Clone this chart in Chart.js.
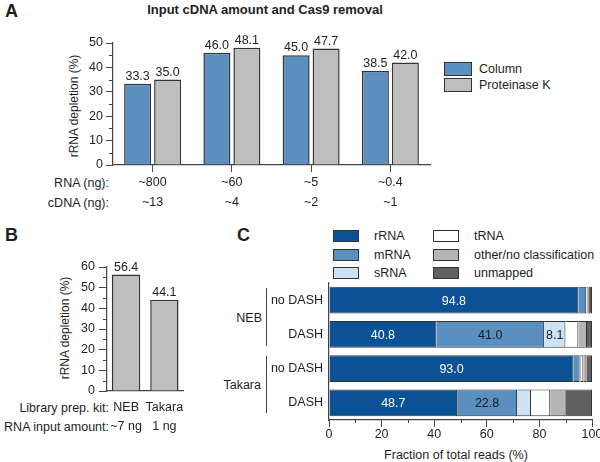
<!DOCTYPE html>
<html>
<head>
<meta charset="utf-8">
<script src="https://cdn.jsdelivr.net/npm/chart.js@4.4.0/dist/chart.umd.min.js"></script>
<style>
body { margin: 0; background: #fff; }
#wrap { position: relative; width: 600px; height: 462px; overflow: hidden;
        font-family: "Liberation Sans", Arial, sans-serif; font-size: 12.5px; color: #1e1e1e; }
.t { position: absolute; white-space: nowrap; line-height: 1; }
.mid { transform: translate(0, -50%); }
.ctr { transform: translate(-50%, -50%); }
.rgt { transform: translate(-100%, -50%); }
.rot { transform: translate(-50%, -50%) rotate(-90deg); font-size: 12px; }
.letter { font-weight: bold; font-size: 18px; }
.box { position: absolute; box-sizing: border-box; border: 1.3px solid #333; }
.vline { position: absolute; width: 1px; background: #444; }
canvas { position: absolute; }
</style>
</head>
<body>
<div id="wrap">
  <div class="t letter" style="left:5px;top:2px;">A</div>
  <div class="t ctr" style="left:265px;top:9px;font-weight:bold;font-size:13px;">Input cDNA amount and Cas9 removal</div>
  <div class="t rot" style="left:74px;top:106px;">rRNA depletion (%)</div>
  <div class="t rgt" style="left:109px;top:183px;">RNA (ng):</div>
  <div class="t rgt" style="left:109px;top:203px;">cDNA (ng):</div>
  <div id="legendA"></div>

  <div class="t letter" style="left:5px;top:226px;">B</div>
  <div class="t rot" style="left:65px;top:328px;">rRNA depletion (%)</div>
  <div class="t rgt" style="left:109px;top:408px;">Library prep. kit:</div>
  <div class="t rgt" style="left:109px;top:427px;">RNA input amount:</div>

  <div class="t letter" style="left:237px;top:226px;">C</div>
  <div id="legendC"></div>
  <div class="t rgt" style="left:262px;top:318px;">NEB</div>
  <div class="t rgt" style="left:261px;top:385px;">Takara</div>
  <div class="vline" style="left:266px;top:288px;height:58px;"></div>
  <div class="vline" style="left:266px;top:356px;height:57px;"></div>
  <div class="t ctr" style="left:456px;top:455px;">Fraction of total reads (%)</div>

  <canvas id="chartA" width="440" height="225" style="left:0;top:0;"></canvas>
  <canvas id="chartB" width="200" height="210" style="left:0;top:240px;"></canvas>
  <canvas id="chartC" width="380" height="192" style="left:220px;top:270px;"></canvas>
</div>
<script>
// Panel A: input cDNA amount and Cas9 removal
var rnaInput = ['~800', '~60', '~5', '~0.4'];
var cdnaInput = ['~13', '~4', '~2', '~1'];
var columnValues = [33.3, 46.0, 45.0, 38.5];
var proteinaseValues = [35.0, 48.1, 47.7, 42.0];

// Panel B: library prep kits
var kits = ['NEB', 'Takara'];
var kitInput = ['~7 ng', '1 ng'];
var kitDepletion = [56.4, 44.1];

// Panel C: fraction of total reads
var rowLabels = ['no DASH', 'DASH', 'no DASH', 'DASH'];
var readClasses = ['rRNA', 'mRNA', 'sRNA', 'tRNA', 'other/no classification', 'unmapped'];
var rRNA = [94.8, 40.8, 93.0, 48.7];
var mRNA = [3.0, 41.0, 2.3, 22.8];
var sRNA = [0.1, 8.1, 0.4, 5.3];
var tRNA = [0.4, 4.9, 1.0, 7.3];
var otherRNA = [0.3, 3.3, 1.2, 5.9];
var unmapped = [1.4, 1.9, 2.1, 10.0];

var classColors = ['#0a5195', '#5b8fbf', '#cfe2f5', '#ffffff', '#b5b5b5', '#606060'];
var classTextColors = ['#ffffff', '#1a1a1a', '#1a1a1a'];   // only these classes get numbers
var blue = '#5b8fbf';
var grey = '#bebebe';
var edge = '#333333';
var ink = '#1e1e1e';
var FONT = '"Liberation Sans", Arial, sans-serif';

// small unlabeled ticks between the labelled ones
var minorTicks = {
    id: 'minorTicks',
    afterDraw: function(chart, args, opts) {
        var s = chart.scales[opts.axis];
        if (!s) return;
        var ctx = chart.ctx;
        ctx.save();
        ctx.strokeStyle = '#444';
        ctx.lineWidth = 1;
        ctx.beginPath();
        for (var v = s.min + opts.step; v < s.max; v += opts.step * 2) {
            var p = Math.round(s.getPixelForValue(v)) + 0.5;
            if (s.isHorizontal()) {
                ctx.moveTo(p, s.top);
                ctx.lineTo(p, s.top + opts.length);
            } else {
                ctx.moveTo(s.right - opts.length, p);
                ctx.lineTo(s.right, p);
            }
        }
        ctx.stroke();
        ctx.restore();
    }
};

// numbers over the bars (panels A and B)
var topLabels = {
    id: 'topLabels',
    afterDatasetsDraw: function(chart) {
        var ctx = chart.ctx;
        ctx.save();
        ctx.font = '12.5px ' + FONT;
        ctx.fillStyle = ink;
        ctx.textAlign = 'center';
        ctx.textBaseline = 'bottom';
        chart.data.datasets.forEach(function(ds, i) {
            chart.getDatasetMeta(i).data.forEach(function(bar, j) {
                ctx.fillText(ds.data[j].toFixed(1), bar.x, bar.y - 1);
            });
        });
        ctx.restore();
    }
};

// numbers inside the wide segments (panel C)
var segmentLabels = {
    id: 'segmentLabels',
    afterDatasetsDraw: function(chart) {
        var ctx = chart.ctx;
        ctx.save();
        ctx.font = '12.5px ' + FONT;
        ctx.textAlign = 'center';
        ctx.textBaseline = 'middle';
        chart.data.datasets.forEach(function(ds, i) {
            if (i >= classTextColors.length) return;
            chart.getDatasetMeta(i).data.forEach(function(bar, j) {
                if (ds.data[j] < 8) return;
                ctx.fillStyle = classTextColors[i];
                ctx.fillText(ds.data[j].toFixed(1), (bar.x + bar.base) / 2, bar.y + 1);
            });
        });
        ctx.restore();
    }
};

function legendHTML(el, names, colors, left, top, boxW, boxH, rowGap, textDx, colGap, perCol) {
    var html = '';
    names.forEach(function(n, i) {
        var col = Math.floor(i / perCol), row = i % perCol;
        var x = left + col * colGap, y = top + row * rowGap;
        html += '<div class="box" style="left:' + x + 'px;top:' + (y - boxH / 2) + 'px;width:' + boxW +
                'px;height:' + boxH + 'px;background:' + colors[i] + ';"></div>';
        html += '<div class="t mid" style="left:' + (x + textDx) + 'px;top:' + y + 'px;">' + n + '</div>';
    });
    document.getElementById(el).innerHTML = html;
}

legendHTML('legendA', ['Column', 'Proteinase K'], [blue, grey], 444, 68.5, 28, 14, 16.5, 35, 0, 2);
legendHTML('legendC', readClasses, classColors, 333, 236, 26, 12, 18.5, 41, 100, 3);

Chart.defaults.font.family = FONT;
Chart.defaults.font.size = 12.5;
Chart.defaults.color = ink;

function fixSize(w, h) {
    return function(s) {
        if (w !== null) s.width = w;
        if (h !== null) s.height = h;
        s.paddingLeft = 0; s.paddingRight = 0; s.paddingTop = 0; s.paddingBottom = 0;
    };
}

new Chart(document.getElementById('chartA'), {
    type: 'bar',
    data: {
        labels: rnaInput.map(function(r, i) { return [r, cdnaInput[i]]; }),
        datasets: [
            { label: 'Column', data: columnValues, backgroundColor: blue },
            { label: 'Proteinase K', data: proteinaseValues, backgroundColor: grey }
        ]
    },
    options: {
        responsive: false,
        animation: false,
        layout: { padding: { top: 43, right: 10, left: 0, bottom: 0 } },
        datasets: { bar: { borderColor: edge, borderWidth: 1.5, categoryPercentage: 0.757, barPercentage: 0.9 } },
        plugins: { legend: { display: false }, tooltip: { enabled: false },
                   minorTicks: { axis: 'y', step: 5, length: 4 } },
        scales: {
            x: {
                afterFit: fixSize(null, 60),
                grid: { drawOnChartArea: false, offset: false, tickLength: 7, color: '#444' },
                border: { color: '#444', width: 1.2 },
                ticks: { padding: 1, maxRotation: 0, autoSkip: false, font: { size: 12.5, lineHeight: 1.6 } }
            },
            y: {
                min: 0, max: 50,
                afterFit: fixSize(113, null),
                grid: { drawOnChartArea: false, tickLength: 7, color: '#444' },
                border: { color: '#444', width: 1.2 },
                ticks: { stepSize: 10, padding: 3 }
            }
        }
    },
    plugins: [minorTicks, topLabels]
});

new Chart(document.getElementById('chartB'), {
    type: 'bar',
    data: {
        labels: kits.map(function(k, i) { return [k, kitInput[i]]; }),
        datasets: [{ label: 'rRNA depletion', data: kitDepletion, backgroundColor: grey }]
    },
    options: {
        responsive: false,
        animation: false,
        layout: { padding: { top: 27, right: 16.5, left: 0, bottom: 0 } },
        datasets: { bar: { borderColor: edge, borderWidth: 1.5, categoryPercentage: 1, barPercentage: 0.74 } },
        plugins: { legend: { display: false }, tooltip: { enabled: false },
                   minorTicks: { axis: 'y', step: 5, length: 4 } },
        scales: {
            x: {
                afterFit: fixSize(null, 59),
                grid: { drawOnChartArea: false, drawTicks: false },
                border: { color: '#444', width: 1.2 },
                ticks: { padding: 7, maxRotation: 0, minRotation: 0, autoSkip: false,
                         font: { size: 12.5, lineHeight: 1.52 } }
            },
            y: {
                min: 0, max: 60,
                afterFit: fixSize(107, null),
                grid: { drawOnChartArea: false, tickLength: 8, color: '#444' },
                border: { color: '#444', width: 1.2 },
                ticks: { stepSize: 10, padding: 4 }
            }
        }
    },
    plugins: [minorTicks, topLabels]
});

var seriesC = [rRNA, mRNA, sRNA, tRNA, otherRNA, unmapped];
new Chart(document.getElementById('chartC'), {
    type: 'bar',
    data: {
        labels: rowLabels,
        datasets: readClasses.map(function(name, i) {
            return { label: name, data: seriesC[i], backgroundColor: classColors[i] };
        })
    },
    options: {
        indexAxis: 'y',
        responsive: false,
        animation: false,
        layout: { padding: { top: 13, right: 8, left: 0, bottom: 0 } },
        datasets: { bar: { borderColor: edge, borderWidth: 1, categoryPercentage: 1, barPercentage: 0.78 } },
        plugins: { legend: { display: false }, tooltip: { enabled: false },
                   minorTicks: { axis: 'x', step: 10, length: 3 } },
        scales: {
            x: {
                stacked: true, min: 0, max: 100,
                afterFit: fixSize(null, 42),
                grid: { drawOnChartArea: false, tickLength: 7, color: '#444' },
                border: { color: '#444', width: 1.2 },
                ticks: { stepSize: 20, padding: 0, maxRotation: 0 }
            },
            y: {
                stacked: true,
                afterFit: fixSize(109, null),
                grid: { drawOnChartArea: false, drawTicks: false },
                border: { color: '#444', width: 1.2 },
                ticks: { padding: 6 }
            }
        }
    },
    plugins: [minorTicks, segmentLabels]
});
</script>
</body>
</html>
